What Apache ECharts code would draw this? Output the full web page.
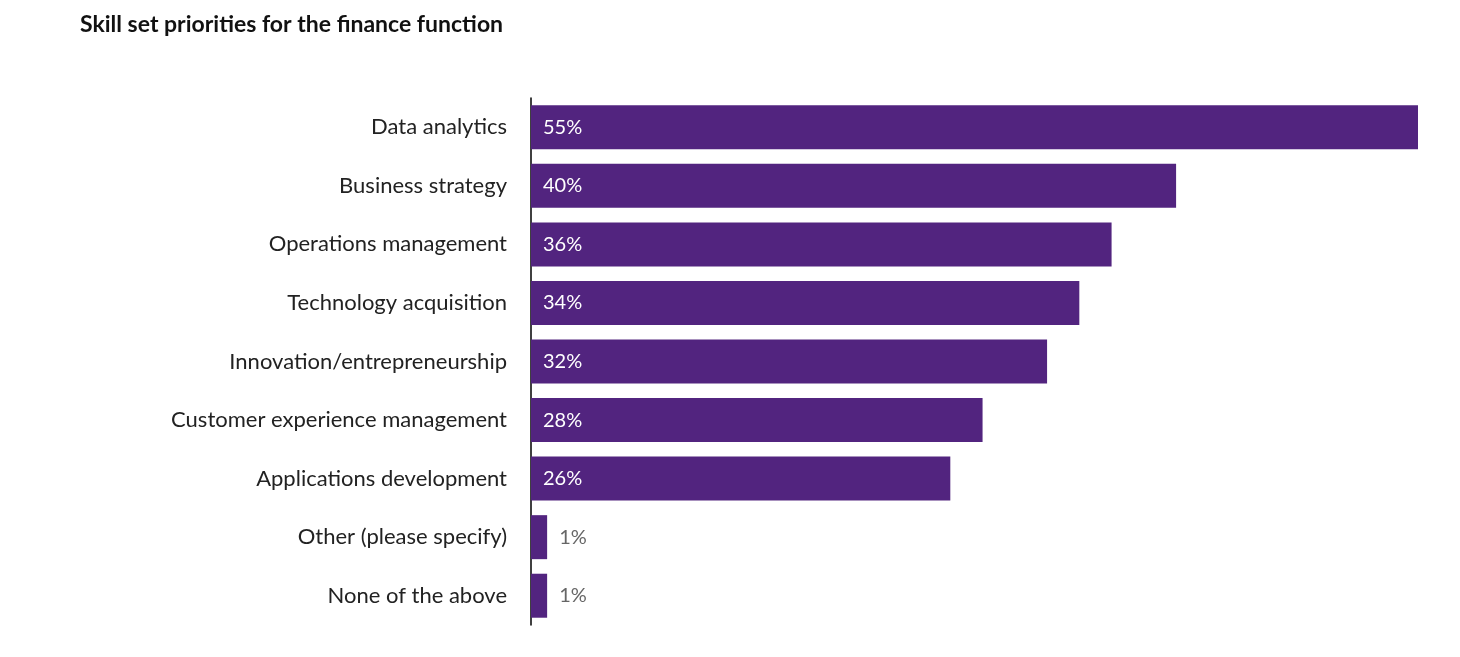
<!DOCTYPE html>
<html>
<head>
<meta charset="utf-8">
<script src="https://cdn.jsdelivr.net/npm/echarts@6/dist/echarts.min.js"></script>
<style>html,body{margin:0;padding:0;background:#fff}#chart{width:1460px;height:657px}</style>
</head>
<body>
<div id="chart"></div>
<script>
var categories = ['Data analytics','Business strategy','Operations management','Technology acquisition','Innovation/entrepreneurship','Customer experience management','Applications development','Other (please specify)','None of the above'];
var values = [55,40,36,34,32,28,26,1,1];

var myChart = echarts.init(document.getElementById('chart'));
var option = {
    title: {
        text: 'Skill set priorities for the finance function',
        left: 75, top: 8,
        textStyle: {fontFamily: 'Lato', fontWeight: 'bold', fontSize: 23, color: '#111'}
    },
    grid: {left: 531, right: 42, top: 98, bottom: 32},
    xAxis: {type: 'value', min: 0, max: 55, show: false},
    yAxis: {
        type: 'category', inverse: true, data: categories,
        axisLine: {show: true, lineStyle: {color: '#000', width: 1.5}},
        axisTick: {show: false},
        axisLabel: {fontFamily: 'Lato', fontSize: 22, color: '#222', margin: 24}
    },
    series: [{
        type: 'bar',
        barWidth: 44,
        data: values.map(function(v){
            return {
                value: v,
                label: v > 5
                    ? {show: true, position: 'insideLeft', color: '#fff', distance: 12}
                    : {show: true, position: 'right', color: '#666', distance: 12}
            };
        }),
        itemStyle: {color: '#52247f'},
        label: {formatter: '{c}%', fontFamily: 'Lato', fontSize: 20},
        silent: true
    }]
};
myChart.setOption(option);
</script>
</body>
</html>
